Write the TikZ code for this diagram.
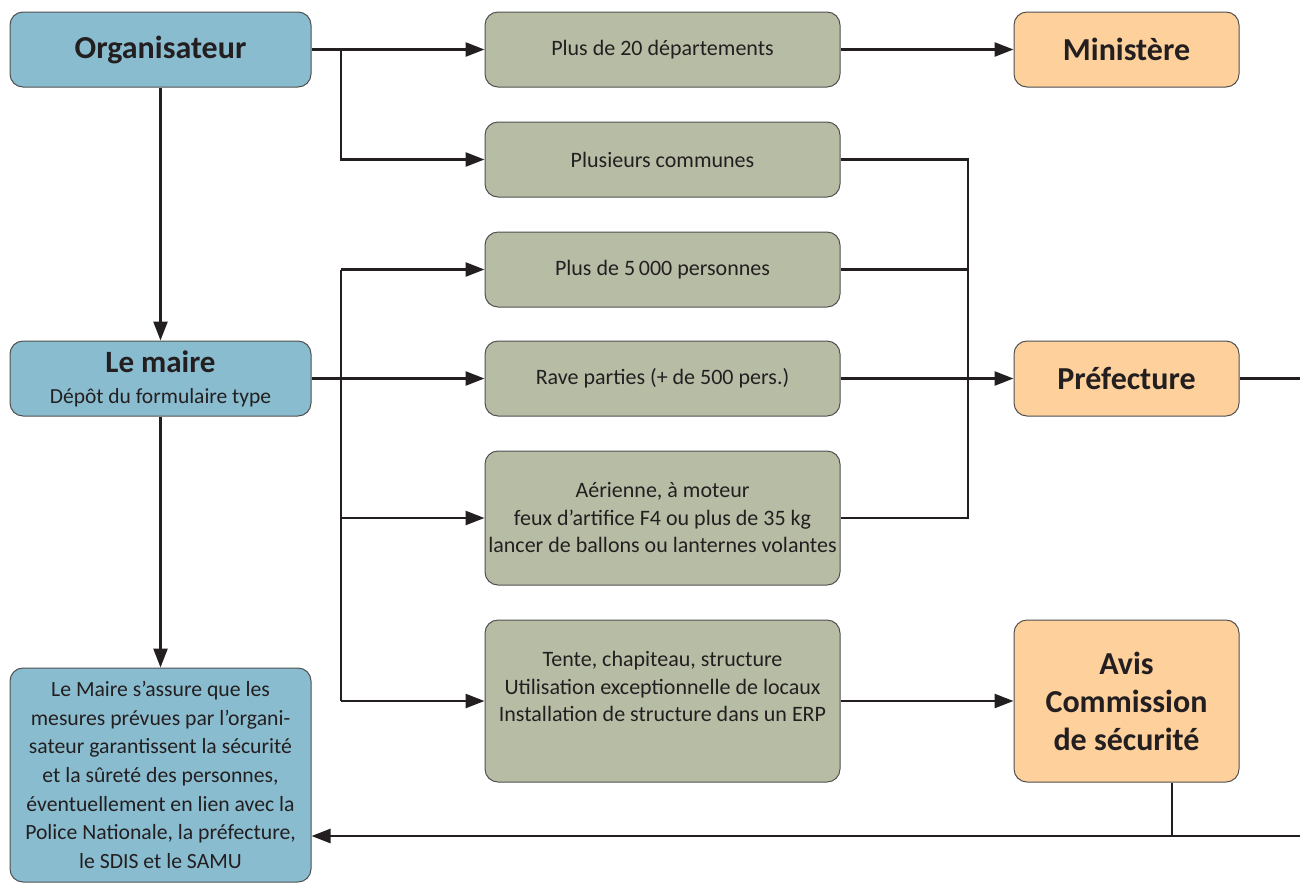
\documentclass[tikz,border=0pt]{standalone}
\usepackage{fontspec}
\setmainfont{Carlito}
\usetikzlibrary{arrows.meta}
\definecolor{bluefill}{RGB}{137,188,207}
\definecolor{greenfill}{RGB}{183,189,165}
\definecolor{orangefill}{RGB}{253,208,156}
\definecolor{edge}{RGB}{80,80,80}
\definecolor{ink}{RGB}{35,31,32}
\tikzset{
  box/.style={draw=edge, line width=1pt, rounded corners=13pt, inner sep=0pt, align=center, text=ink},
  bluebox/.style={box, fill=bluefill, minimum width=301pt},
  greenbox/.style={box, fill=greenfill, minimum width=355pt, font=\fontsize{22}{27.5}\selectfont},
  orangebox/.style={box, fill=orangefill, minimum width=225pt, font=\fontsize{32}{38}\selectfont\bfseries},
  conn/.style={line width=2.6pt, draw=ink},
  tip/.style={-{Triangle[length=19pt,width=14pt]}},
  bigbold/.style={font=\fontsize{32}{36}\selectfont\bfseries}
}
\begin{document}
\begin{tikzpicture}[x=1pt,y=-1pt]
\useasboundingbox (0,0) rectangle (1300,884);
% left column
\node[bluebox, minimum height=75pt, bigbold] (org) at (160.5,49.5) {Organisateur};
\node[bluebox, minimum height=75pt, font=\fontsize{22}{31}\selectfont] (maire) at (160.5,378.5) {{\fontsize{31}{31}\selectfont\bfseries Le maire}\\{\fontsize{21.5}{31}\selectfont Dépôt du formulaire type}};
\node[bluebox, minimum height=214pt, font=\fontsize{21.7}{28.7}\selectfont] (sur) at (160.5,775) {Le Maire s’assure que les\\mesures prévues par l’organi-\\sateur garantissent la sécurité\\et la sûreté des personnes,\\éventuellement en lien avec la\\Police Nationale, la préfecture,\\le SDIS et le SAMU};
% green column
\node[greenbox, minimum height=75pt] (g1) at (662.5,49.5) {Plus de 20 départements};
\node[greenbox, minimum height=75pt] (g2) at (662.5,159.5) {Plusieurs communes};
\node[greenbox, minimum height=75pt] (g3) at (662.5,269.5) {Plus de 5\,000 personnes};
\node[greenbox, minimum height=75pt] (g4) at (662.5,378.5) {Rave parties (+ de 500 pers.)};
\node[greenbox, minimum height=134pt] (g5) at (662.5,518) {Aérienne, à moteur\\feux d’artifice F4 ou plus de 35 kg\\lancer de ballons ou lanternes volantes};
\node[greenbox, minimum height=162pt] (g6) at (662.5,701) {};
\node[font=\fontsize{22}{27.5}\selectfont, text=ink, align=center, anchor=north] (g6t) at (662.5,648) {Tente, chapiteau, structure\\Utilisation exceptionnelle de locaux\\Installation de structure dans un ERP};
% orange column
\node[orangebox, minimum height=75pt] (min) at (1126.5,49.5) {Ministère};
\node[orangebox, minimum height=75pt] (pref) at (1126.5,378.5) {Préfecture};
\node[orangebox, minimum height=162pt] (avis) at (1126.5,701) {Avis\\Commission\\de sécurité};
% junction coordinates
\coordinate (j1) at (341,49.5);
\coordinate (j2) at (341,269.5);
\coordinate (j3) at (341,518);
\coordinate (j4) at (341,701);
\coordinate (r1) at (968,159.5);
\coordinate (r2) at (968,518);
\coordinate (pe) at (1300,378.5);
\coordinate (a1) at (1172,836);
\coordinate (e2) at (1300,836);
% connectors
\draw[conn,tip] (org.east) -- (g1.west);
\draw[conn,tip] (j1) |- (g2.west);
\draw[conn,tip] (org.south) -- (maire.north);
\draw[conn,tip] (maire.south) -- (sur.north);
\draw[conn,tip] (maire.east) -- (g4.west);
\draw[conn] (j2) -- (j4);
\draw[conn,tip] (j2) -- (g3.west);
\draw[conn,tip] (j3) -- (g5.west);
\draw[conn,tip] (j4) -- (g6.west);
\draw[conn,tip] (g1.east) -- (min.west);
\draw[conn] (g2.east) -- (r1) -- (r2) -- (g5.east);
\draw[conn] (g3.east) -- (g3.east -| r1);
\draw[conn,tip] (g4.east) -- (pref.west);
\draw[conn] (pref.east) -- (pe);
\draw[conn,tip] (g6.east) -- (avis.west);
\draw[conn] (avis.south -| a1) -- (a1);
\draw[conn,tip] (e2) -- (sur.east |- e2);
\end{tikzpicture}
\end{document}
